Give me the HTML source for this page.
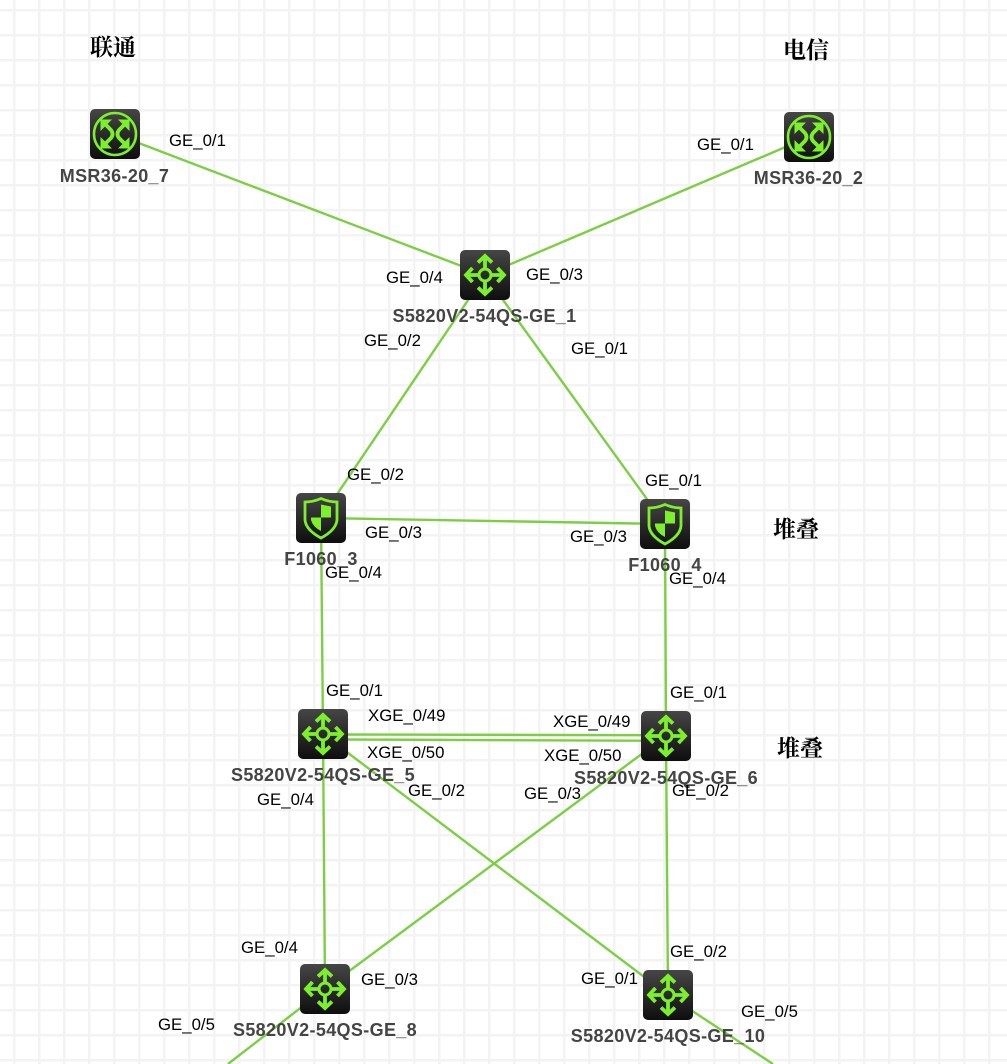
<!DOCTYPE html>
<html><head><meta charset="utf-8">
<style>
html,body{margin:0;padding:0;width:1007px;height:1064px;overflow:hidden}
body{background-color:#fff;
background-image:linear-gradient(to right,#f3f3f3 2.3px,transparent 2.3px),linear-gradient(to bottom,#f3f3f3 2.6px,transparent 2.6px);
background-size:25px 25px;background-position:13px 0,0 9px}
svg{position:absolute;left:0;top:0}
.l{font:16.8px "Liberation Sans",sans-serif;fill:#000}
.n{font:bold 18px "Liberation Sans",sans-serif;fill:#444;text-anchor:middle;letter-spacing:.35px}
.c{font:bold 23px "Noto Serif CJK SC","Liberation Serif",serif;fill:#000}
.e{stroke:#7ccf42;stroke-width:2.4;fill:none}
</style></head><body>
<svg width="1007" height="1064" viewBox="0 0 1007 1064" xmlns="http://www.w3.org/2000/svg">
<defs>
<linearGradient id="b" x1="0" y1="0" x2="0" y2="1"><stop offset="0" stop-color="#464646"/><stop offset="1" stop-color="#0e0e0e"/></linearGradient>
<g id="sw">
<rect width="50" height="50" rx="5" fill="url(#b)"/>
<g stroke="#7cf02a" stroke-width="3.8" fill="none">
<circle cx="25" cy="25" r="6" stroke-width="3"/>
<path d="M25 18V8M25 32V42M18 25H8M32 25H42"/>
<path d="M18 12.500L25 6L32 12.500M18 37.500L25 44L32 37.500M12.500 18L6 25L12.500 32M37.500 18L44 25L37.500 32"/>
</g>
</g>
<g id="rt">
<rect width="50" height="50" rx="5" fill="url(#b)"/>
<circle cx="25" cy="25" r="21" fill="none" stroke="#7cf02a" stroke-width="2.6"/>
<path d="M14 14L21 21Q24 25 21 29L14 36M36 14L29 21Q26 25 29 29L36 36" stroke="#7cf02a" stroke-width="3.8" fill="none"/>
<path d="M10.500 10.500H22L10.500 22ZM39.500 10.500H28L39.500 22ZM10.500 39.500H22L10.500 28ZM39.500 39.500H28L39.500 28Z" fill="#7cf02a"/>
</g>
<g id="fw">
<rect width="50" height="50" rx="5" fill="url(#b)"/>
<path d="M25 5.500Q33 9 41 9V27Q40 37 25 45Q10 37 9 27V9Q17 9 25 5.500Z" fill="none" stroke="#7cf02a" stroke-width="2.8"/>
<path d="M25 11.500L35 13.500V24.500H25ZM15 24.500H25V38Q17 34 15 27Z" fill="#7cf02a"/>
</g>
</defs>

<path class="e" d="M115 134L485 275M809 137L485 275M485 275L321 518M485 275L665 524M321 518L665 524M321 518L323 734M665 524L666 736"/>
<path class="e" d="M348 734.500L641 735.200M348 739.500L641 740.700"/>
<path class="e" d="M323 734L668 995M666 736L325 989M323 734L325 989M666 736L668 995"/>
<path class="e" d="M325 989L228 1064M668 995L773 1064"/>

<use href="#rt" x="90" y="109"/>
<use href="#rt" x="784" y="112"/>
<use href="#sw" x="460" y="250"/>
<use href="#fw" x="296" y="493"/>
<use href="#fw" x="640" y="499"/>
<use href="#sw" x="298" y="709"/>
<use href="#sw" x="641" y="711"/>
<use href="#sw" x="300" y="964"/>
<use href="#sw" x="643" y="970"/>

<text class="n" x="114.500" y="182">MSR36-20_7</text>
<text class="n" x="808.500" y="184">MSR36-20_2</text>
<text class="n" x="484.500" y="322">S5820V2-54QS-GE_1</text>
<text class="n" x="321" y="565">F1060_3</text>
<text class="n" x="665" y="571">F1060_4</text>
<text class="n" x="323" y="781">S5820V2-54QS-GE_5</text>
<text class="n" x="666" y="784">S5820V2-54QS-GE_6</text>
<text class="n" x="325" y="1036">S5820V2-54QS-GE_8</text>
<text class="n" x="668" y="1042">S5820V2-54QS-GE_10</text>

<text class="c" x="90" y="55">联通</text>
<text class="c" x="783" y="58">电信</text>
<text class="c" x="773" y="537">堆叠</text>
<text class="c" x="777" y="756">堆叠</text>

<text class="l" x="169" y="146">GE_0/1</text>
<text class="l" x="697" y="150">GE_0/1</text>
<text class="l" x="386" y="283">GE_0/4</text>
<text class="l" x="526" y="280">GE_0/3</text>
<text class="l" x="364" y="346">GE_0/2</text>
<text class="l" x="571" y="354">GE_0/1</text>
<text class="l" x="347" y="480">GE_0/2</text>
<text class="l" x="645" y="486">GE_0/1</text>
<text class="l" x="365" y="538">GE_0/3</text>
<text class="l" x="570" y="542">GE_0/3</text>
<text class="l" x="325" y="578">GE_0/4</text>
<text class="l" x="669" y="584">GE_0/4</text>
<text class="l" x="326" y="696">GE_0/1</text>
<text class="l" x="670" y="698">GE_0/1</text>
<text class="l" x="368" y="721">XGE_0/49</text>
<text class="l" x="553" y="727">XGE_0/49</text>
<text class="l" x="367" y="758">XGE_0/50</text>
<text class="l" x="544" y="761">XGE_0/50</text>
<text class="l" x="408" y="796">GE_0/2</text>
<text class="l" x="524" y="799">GE_0/3</text>
<text class="l" x="672" y="796">GE_0/2</text>
<text class="l" x="257" y="805">GE_0/4</text>
<text class="l" x="241" y="953">GE_0/4</text>
<text class="l" x="670" y="957">GE_0/2</text>
<text class="l" x="361" y="985">GE_0/3</text>
<text class="l" x="581" y="984">GE_0/1</text>
<text class="l" x="158" y="1030">GE_0/5</text>
<text class="l" x="741" y="1017">GE_0/5</text>
</svg>
</body></html>
